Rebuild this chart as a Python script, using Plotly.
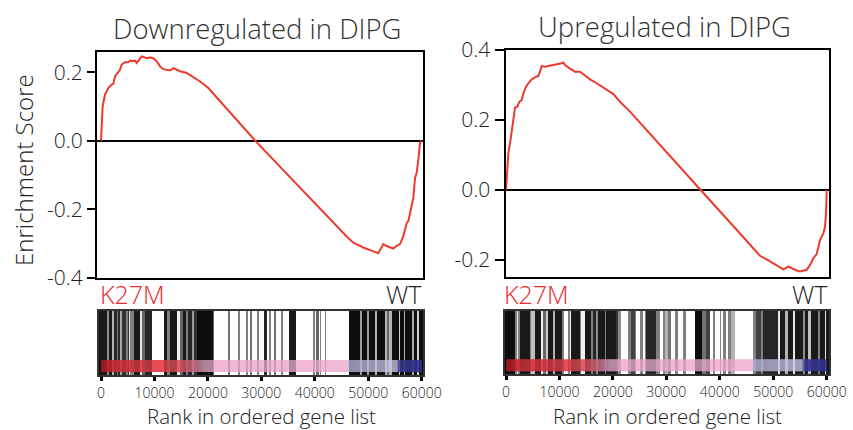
import numpy as np
import plotly.graph_objects as go

# ---------------- data ----------------
left_rank = [0, 125, 312, 748, 1372, 1996, 2308, 2620, 3056, 3555, 3867, 4491, 5114, 5551, 5925,
             6362, 6674, 7173, 7609, 8046, 8545, 9168, 9792, 10416, 11039, 11663, 12287, 12911,
             13534, 14158, 14782, 16029, 17276, 18524, 20083, 28877, 45967, 47214, 49085, 50333,
             51268, 51892, 52204, 52827, 53326, 54075, 54698, 55322, 55946, 56570, 56881, 57193,
             57505, 57817, 58441, 58753, 59064, 59376, 59688, 60000]
left_es = [0.0, 0.062, 0.101, 0.135, 0.154, 0.164, 0.166, 0.188, 0.196, 0.207, 0.222, 0.229, 0.230,
           0.234, 0.232, 0.234, 0.227, 0.236, 0.246, 0.244, 0.241, 0.243, 0.241, 0.232, 0.217,
           0.209, 0.207, 0.205, 0.212, 0.207, 0.203, 0.198, 0.186, 0.173, 0.154, 0.0, -0.279,
           -0.297, -0.311, -0.318, -0.324, -0.328, -0.318, -0.301, -0.306, -0.311, -0.314,
           -0.306, -0.301, -0.277, -0.258, -0.240, -0.234, -0.209, -0.166, -0.108, -0.093,
           -0.054, -0.006, 0.0]

right_rank = [0, 249, 437, 748, 1060, 1372, 1684, 2121, 2495, 2931, 3243, 3742, 4179, 4802, 5426,
              6050, 6362, 6674, 7297, 8233, 9168, 9792, 10416, 10728, 11039, 11975, 12911, 13846,
              14782, 15717, 16965, 18212, 19459, 20083, 21330, 23202, 36424, 47526, 48773, 50644,
              51892, 52827, 53451, 54387, 55010, 56257, 56881, 57505, 58129, 58441, 58753, 59376,
              59688, 59900, 60000]
right_es = [0.0, 0.048, 0.105, 0.133, 0.162, 0.200, 0.236, 0.238, 0.252, 0.257, 0.276, 0.295,
            0.305, 0.316, 0.322, 0.326, 0.338, 0.354, 0.352, 0.355, 0.356, 0.359, 0.362, 0.364,
            0.357, 0.347, 0.338, 0.338, 0.326, 0.316, 0.305, 0.293, 0.281, 0.274, 0.252, 0.224,
            0.0, -0.188, -0.198, -0.214, -0.227, -0.219, -0.224, -0.230, -0.233, -0.228, -0.214,
            -0.195, -0.183, -0.162, -0.143, -0.124, -0.105, -0.060, 0.0]

# barcode: segment edges (rank) and hit darkness per segment
left_bc_edges = [-374, 1123, 1497, 2058, 2432, 2994, 3181, 3555, 3929, 4678, 5052, 5239, 5426, 6174,
                 7297, 7671, 8232, 9542, 11787, 12349, 12910, 14220, 14781, 15342, 15904, 16278,
                 17026, 17400, 17962, 20955, 21142, 23762, 24136, 25633, 26007, 27129, 27504,
                 27878, 28252, 29188, 29562, 30497, 31059, 31433, 31807, 32368, 32743, 33678,
                 34052, 35175, 36485, 39666, 40039, 40227, 40788, 40975, 41162, 41911, 42098,
                 46401, 48459, 48833, 49769, 50143, 51266, 51640, 53136, 53511, 53885, 54446,
                 55756, 55943, 56691, 56878, 58188, 58562, 59123, 59497, 60245]
left_bc_dark = [0.9, 0.45, 0.9, 0.3, 0.85, 0.5, 0.85, 0.35, 0.8, 0.5, 0.8, 0.1, 0.5, 0.9, 0.1, 0.6,
                0.85, 0.0, 0.9, 0.5, 0.9, 0.05, 0.6, 0.9, 0.5, 0.85, 0.4, 0.8, 0.95, 0.6, 0.0,
                0.55, 0.0, 0.5, 0.0, 0.5, 0.0, 0.55, 0.0, 0.5, 0.0, 0.85, 0.0, 0.5, 0.0, 0.55,
                0.0, 0.5, 0.0, 0.9, 0.0, 0.5, 0.0, 0.6, 0.0, 0.5, 0.0, 0.5, 0.0, 0.95, 0.4, 0.95,
                0.4, 0.95, 0.3, 0.95, 0.3, 0.6, 0.3, 0.95, 0.2, 0.95, 0.3, 0.95, 0.35, 0.95, 0.2,
                0.95]

right_bc_edges = [-187, 1684, 2058, 2245, 2619, 4490, 4678, 5426, 6549, 6923, 7484, 7858, 8794, 9168,
                  10478, 10852, 11600, 11974, 12162, 13845, 14033, 14781, 15904, 16278, 16839,
                  17213, 18523, 18710, 20581, 20955, 21517, 22826, 23388, 24136, 24323, 25071,
                  25633, 26007, 26194, 28065, 28813, 29375, 29749, 30310, 30872, 31620, 32181,
                  33117, 33678, 35362, 36672, 37420, 38168, 38730, 39104, 40039, 40227, 40601,
                  41162, 41536, 42098, 42846, 46214, 46775, 47711, 48085, 50891, 51265, 52201,
                  52763, 53698, 54072, 55569, 55943, 56504, 57066, 58375, 58749, 59685, 59872,
                  60433]
right_bc_dark = [0.95, 0.5, 0.1, 0.5, 0.9, 0.5, 0.25, 0.9, 0.05, 0.6, 0.2, 0.9, 0.3, 0.9, 0.5, 0.0,
                 0.5, 0.05, 0.9, 0.5, 0.05, 0.9, 0.5, 0.85, 0.45, 0.9, 0.5, 0.9, 0.8, 0.45, 0.0,
                 0.5, 0.75, 0.5, 0.0, 0.5, 0.0, 0.5, 0.85, 0.5, 0.0, 0.5, 0.3, 0.55, 0.0, 0.5, 0.0,
                 0.5, 0.0, 0.95, 0.55, 0.75, 0.0, 0.5, 0.0, 0.5, 0.0, 0.5, 0.0, 0.5, 0.3, 0.0, 0.5,
                 0.75, 0.5, 0.85, 0.1, 0.9, 0.3, 0.9, 0.1, 0.9, 0.45, 0.9, 0.25, 0.9, 0.5, 0.9,
                 0.1, 0.9]

# ranked-metric colour band (rank stop -> colour)
band_rank = [0, 1500, 3000, 12000, 16000, 18000, 19500, 46100, 46300, 51000, 55300, 55800, 60000]
band_rgb = [(195, 30, 42), (222, 45, 55), (232, 60, 70), (236, 78, 88), (232, 100, 115),
            (222, 140, 170), (240, 182, 212), (241, 186, 214), (192, 192, 230), (205, 205, 238),
            (216, 216, 243), (70, 70, 170), (60, 60, 165)]

x_ticks = [0, 10000, 20000, 30000, 40000, 50000, 60000]
left_y_ticks = [-0.4, -0.2, 0.0, 0.2]
right_y_ticks = [-0.2, 0.0, 0.2, 0.4]

titles = ["Downregulated in DIPG", "Upregulated in DIPG"]

# ---------------- figure ----------------
W, H = 853, 430
FONT = "'Open Sans', Inter, 'Liberation Sans', Arial, sans-serif"
TXT = "#222222"
RED_LINE = "#ee3a2c"


def px(x):
    return x / W


def py(y):
    return 1 - y / H


fig = go.Figure()

band_cs = [[r / 60000, "rgb(%d,%d,%d)" % c] for r, c in zip(band_rank, band_rgb)]
grid_edges = np.arange(0, 60001, 100)
grid_mid = (grid_edges[:-1] + grid_edges[1:]) / 2
BAND_Y = [0.047, 0.234]

panels = [
    dict(rank=left_rank, es=left_es, edges=left_bc_edges, dark=left_bc_dark, xt="x", yt="y",
         xb="x2", yb="y2"),
    dict(rank=right_rank, es=right_es, edges=right_bc_edges, dark=right_bc_dark, xt="x3", yt="y3",
         xb="x4", yb="y4"),
]

for p in panels:
    fig.add_trace(go.Scatter(x=p["rank"], y=p["es"], mode="lines",
                             line=dict(color=RED_LINE, width=2), xaxis=p["xt"], yaxis=p["yt"],
                             hoverinfo="skip", showlegend=False))
    fig.add_trace(go.Heatmap(x=p["edges"], y=[0, 1], z=[p["dark"]], zmin=0, zmax=1,
                             colorscale=[[0, "white"], [1, "black"]], showscale=False,
                             xaxis=p["xb"], yaxis=p["yb"], hoverinfo="skip"))
    fig.add_trace(go.Heatmap(x=grid_edges, y=BAND_Y, z=[grid_mid], zmin=0, zmax=60000,
                             colorscale=band_cs, showscale=False, xaxis=p["xb"], yaxis=p["yb"],
                             hoverinfo="skip"))
    fig.add_trace(go.Heatmap(x=p["edges"], y=BAND_Y, z=[p["dark"]], zmin=0, zmax=1,
                             colorscale=[[0, "rgba(0,0,0,0)"], [1, "rgba(0,0,0,0.28)"]],
                             showscale=False, xaxis=p["xb"], yaxis=p["yb"], hoverinfo="skip"))

frame_top = dict(showline=True, mirror=True, linecolor="black", linewidth=2, showgrid=False,
                 automargin=False)
frame_bot = dict(showline=True, mirror=True, linecolor="#333333", linewidth=1.5, showgrid=False,
                 automargin=False)
YTF = dict(size=21, color=TXT, weight=300)
XTF = dict(size=14, color=TXT, weight=300)

fig.update_layout(
    template="none",
    width=W, height=H, margin=dict(l=0, r=0, t=0, b=0, autoexpand=False),
    paper_bgcolor="white", plot_bgcolor="white",
    font=dict(family=FONT, color=TXT, weight=300),
    showlegend=False,
    xaxis=dict(domain=[px(97), px(423)], range=[-748, 60245], anchor="y", showticklabels=False,
               ticks="", zeroline=False, **frame_top),
    yaxis=dict(domain=[py(278), py(52)], range=[-0.4, 0.259], anchor="x", tickvals=left_y_ticks,
               ticktext=["%.1f" % v for v in left_y_ticks], ticks="outside", ticklen=8,
               tickwidth=2, tickcolor="black", tickfont=YTF,
               zeroline=True, zerolinecolor="black", zerolinewidth=2, **frame_top),
    xaxis2=dict(domain=[px(99), px(423)], range=[-374, 60245], anchor="y2", tickvals=x_ticks,
                ticktext=[str(v) for v in x_ticks],
                ticks="outside", ticklen=4, tickwidth=2.5, tickcolor="black",
                tickfont=XTF, zeroline=False, **frame_bot),
    yaxis2=dict(domain=[py(375), py(311)], range=[0, 1], anchor="x2", showticklabels=False,
                ticks="", zeroline=False, **frame_bot),
    xaxis3=dict(domain=[px(505.5), px(829)], range=[-94, 60433], anchor="y3",
                showticklabels=False, ticks="", zeroline=False, **frame_top),
    yaxis3=dict(domain=[py(277), py(50)], range=[-0.2486, 0.4], anchor="x3",
                tickvals=right_y_ticks, ticktext=["%.1f" % v for v in right_y_ticks],
                ticks="outside", ticklen=9, tickwidth=2, tickcolor="black",
                tickfont=YTF, zeroline=True,
                zerolinecolor="black", zerolinewidth=2, **frame_top),
    xaxis4=dict(domain=[px(505), px(829)], range=[-187, 60433], anchor="y4", tickvals=x_ticks,
                ticktext=[str(v) for v in x_ticks],
                ticks="outside", ticklen=4, tickwidth=2.5, tickcolor="black",
                tickfont=XTF, zeroline=False, **frame_bot),
    yaxis4=dict(domain=[py(374), py(311)], range=[0, 1], anchor="x4", showticklabels=False,
                ticks="", zeroline=False, **frame_bot),
)

ann = []


def add(text, x, y, size, color=TXT, xanchor="center", angle=0):
    ann.append(dict(text=text, x=px(x), y=py(y), xref="paper", yref="paper", showarrow=False,
                    xanchor=xanchor, yanchor="middle", textangle=angle,
                    font=dict(size=size, color=color, family=FONT, weight=300)))


add(titles[0], 257.5, 29, 27.5, color="#333333")
add(titles[1], 664, 26, 27.5, color="#333333")
add("Enrichment Score", 23, 170, 24, angle=-90)
add("K27M", 98, 294, 25, color="#e8262b", xanchor="left")
add("WT", 423, 294, 25, xanchor="right")
add("K27M", 502, 294, 25, color="#e8262b", xanchor="left")
add("WT", 829, 294, 25, xanchor="right")
add("Rank in ordered gene list", 261, 416, 20.5)
add("Rank in ordered gene list", 667, 416, 20.5)
fig.update_layout(annotations=ann)

fig.write_html("out.html")
